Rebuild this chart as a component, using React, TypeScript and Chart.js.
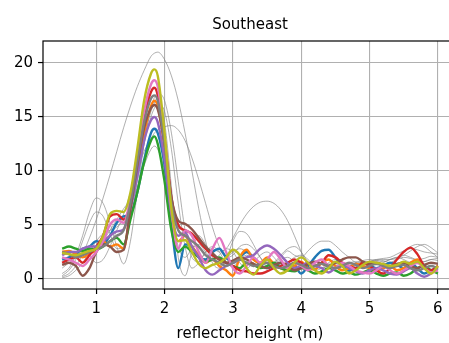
import { useEffect, useRef } from "react";
import { Chart, registerables } from "chart.js";

Chart.register(...registerables);

// reflector heights (m) at which each periodogram is sampled
const heights = [
  0.5, 0.6, 0.7, 0.8, 0.9, 1.0, 1.1, 1.2, 1.3, 1.4, 1.5, 1.6, 1.7, 1.8, 1.85,
  1.9, 2.0, 2.1, 2.2, 2.3, 2.4, 2.5, 2.6, 2.7, 2.8,
  2.9, 3.0, 3.1, 3.2, 3.3, 3.4, 3.5, 3.6, 3.7, 3.8,
  3.9, 4.0, 4.1, 4.2, 4.3, 4.4, 4.5, 4.6, 4.7, 4.8,
  4.9, 5.0, 5.1, 5.2, 5.3, 5.4, 5.5, 5.6, 5.7, 5.8,
  5.9, 6.0,
];

const xTicks = [1, 2, 3, 4, 5, 6];
const yTicks = [0, 5, 10, 15, 20];

// coloured (accepted) periodograms
const blue = [
  1.8, 2.0, 2.3, 2.8, 3.0, 3.5, 3.3, 4.0, 5.2, 5.8, 6.0, 8.0, 11.0, 13.5, 13.9,
  13.5, 10.5, 5.0, 1.0, 3.2, 3.0, 2.0, 1.8, 2.5, 2.8,
  2.0, 1.5, 2.0, 2.5, 2.0, 1.3, 1.0, 1.2, 1.5, 1.0,
  1.2, 0.5, 1.2, 2.0, 2.6, 2.7, 2.0, 1.2, 0.8, 1.0,
  1.4, 1.3, 1.0, 1.2, 1.5, 1.3, 1.0, 1.5, 1.0, 0.5,
  0.8, 1.0,
];
const orange = [
  2.5, 2.6, 2.3, 2.0, 2.4, 2.6, 3.5, 3.0, 3.2, 2.8, 6.5, 10.0, 13.5, 16.0, 16.5,
  16.0, 12.0, 6.0, 3.5, 4.0, 3.0, 2.2, 1.5, 1.8, 1.2,
  0.8, 0.3, 2.0, 2.7, 1.8, 1.5, 2.0, 1.4, 1.0, 0.8,
  1.2, 1.6, 1.0, 0.9, 1.5, 1.8, 1.2, 0.8, 1.0, 1.4,
  1.2, 1.0, 0.8, 1.0, 1.2, 0.8, 1.0, 1.5, 1.8, 1.2,
  0.7, 1.2,
];
const green = [
  2.8, 3.0, 2.8, 2.6, 2.8, 2.7, 3.0, 3.5, 3.8, 3.2, 5.5, 8.0, 10.8, 12.8, 13.2,
  12.5, 9.0, 4.5, 2.5, 3.0, 2.5, 2.0, 1.6, 1.8, 2.0,
  1.5, 1.2, 1.0, 1.5, 1.3, 1.0, 1.2, 1.5, 1.0, 0.8,
  0.7, 1.0, 0.8, 0.5, 0.7, 1.0, 0.8, 0.5, 0.6, 0.4,
  0.6, 0.8, 0.5, 0.3, 0.5, 0.6, 0.3, 0.5, 1.0, 1.2,
  0.8, 0.5,
];
const red = [
  1.5, 1.8, 2.0, 1.5, 2.2, 3.0, 4.0, 5.8, 6.0, 5.5, 7.0, 11.0, 15.0, 17.3, 17.7,
  17.0, 13.0, 7.5, 5.0, 4.5, 4.2, 3.5, 2.8, 2.2, 1.8,
  1.5, 1.2, 0.8, 0.7, 0.5, 0.5, 0.7, 1.0, 1.2, 1.5,
  1.8, 1.5, 1.0, 1.2, 1.5, 2.2, 2.0, 1.5, 1.2, 1.0,
  1.5, 1.2, 0.8, 0.5, 1.0, 1.8, 2.5, 2.9, 2.3, 1.2,
  0.8, 1.2,
];
const purple = [
  2.2, 2.5, 2.5, 2.8, 3.0, 3.0, 3.5, 4.0, 4.4, 4.6, 6.5, 9.5, 12.8, 14.7, 15.0,
  14.5, 11.0, 6.0, 4.0, 4.3, 3.0, 2.0, 0.8, 0.4, 0.8,
  1.2, 1.5, 1.8, 2.0, 2.2, 2.8, 3.1, 2.8, 2.2, 1.5,
  1.0, 1.2, 1.5, 1.2, 1.0, 0.6, 1.0, 1.3, 1.0, 0.7,
  0.5, 0.8, 1.0, 0.8, 0.5, 0.4, 0.7, 1.0, 0.5, 0.2,
  0.5, 1.0,
];
const brown = [
  1.3, 1.5, 1.2, 0.3, 1.0, 2.5, 3.2, 3.0, 2.5, 2.7, 6.5, 10.5, 14.0, 15.8, 16.1,
  15.7, 12.5, 7.5, 5.4, 5.1, 4.6, 3.8, 3.0, 2.4, 1.8,
  1.5, 1.7, 2.0, 1.8, 1.4, 1.2, 1.0, 1.3, 1.5, 1.2,
  0.8, 1.0, 1.4, 1.6, 1.4, 1.2, 1.5, 1.8, 2.0, 2.0,
  1.6, 1.4, 1.5, 1.3, 1.2, 1.4, 1.5, 1.2, 1.0, 1.3,
  1.5, 1.4,
];
const pink = [
  2.0, 1.8, 1.5, 1.2, 1.8, 2.5, 3.5, 5.0, 5.5, 5.2, 7.5, 11.5, 15.5, 18.0, 18.4,
  17.8, 13.0, 6.5, 2.8, 4.5, 4.0, 2.5, 1.5, 2.8, 3.8,
  2.5, 1.0, 0.5, 1.2, 2.0, 1.5, 1.8, 2.5, 1.8, 1.0,
  1.5, 1.2, 0.8, 1.5, 1.8, 1.2, 1.0, 1.5, 1.2, 0.8,
  0.6, 0.5, 0.8, 1.2, 0.8, 0.5, 0.8, 1.2, 1.5, 1.0,
  0.6, 0.8,
];
const grey = [
  2.5, 2.3, 2.0, 2.2, 2.5, 2.8, 3.0, 3.5, 4.0, 4.5, 7.0, 10.8, 14.5, 16.7, 17.0,
  16.5, 12.5, 7.0, 4.5, 4.0, 3.5, 3.0, 2.2, 1.8, 1.5,
  1.2, 1.5, 1.8, 1.5, 1.2, 1.3, 1.5, 1.2, 1.0, 1.2,
  1.5, 1.3, 1.0, 1.2, 1.4, 1.2, 1.0, 1.2, 1.5, 1.3,
  1.0, 1.2, 1.4, 1.2, 1.0, 1.2, 1.3, 1.0, 0.8, 1.0,
  1.2, 1.0,
];
const olive = [
  2.4, 2.3, 2.2, 2.4, 2.6, 2.8, 4.0, 6.0, 6.3, 6.2, 8.0, 12.0, 16.5, 19.0, 19.4,
  18.8, 13.5, 6.5, 3.5, 3.6, 2.5, 1.4, 1.0, 1.3, 1.5,
  2.0, 2.7, 2.2, 1.0, 0.4, 1.2, 1.8, 1.0, 0.5, 0.8,
  1.5, 2.0, 1.5, 0.8, 0.5, 1.0, 1.6, 1.2, 0.5, 0.8,
  1.3, 1.6, 1.5, 1.4, 1.2, 1.3, 1.6, 1.4, 1.6, 1.0,
  0.5, 1.2,
];

// thin grey (rejected) periodograms
const rejectedA = [
  0.2, 0.5, 1.2, 2.3, 3.8, 5.5, 7.5, 9.6, 11.8, 14.0, 16.0, 17.8, 19.3, 20.6, 20.9,
  21.0, 20.3, 18.8, 16.5, 13.5, 10.0, 6.5, 3.5, 1.5, 1.0,
  1.8, 2.5, 2.8, 2.5, 1.8, 1.2, 1.0, 1.3, 1.8, 2.0,
  1.6, 1.0, 0.8, 1.2, 1.5, 1.4, 1.2, 1.3, 1.5, 1.6,
  1.5, 1.6, 1.8, 1.9, 2.0, 2.3, 2.6, 2.8, 2.7, 2.5,
  2.4, 2.3,
];
const rejectedB = [
  0.5, 1.0, 2.2, 4.0, 6.2, 7.5, 7.0, 5.2, 3.0, 1.4, 3.5, 8.0, 12.5, 15.8, 16.8,
  17.2, 16.5, 13.5, 9.0, 4.5, 2.0, 1.6, 2.5, 3.0, 2.5,
  1.5, 1.2, 1.8, 2.2, 1.8, 1.2, 1.0, 1.2, 1.5, 1.3,
  1.0, 1.2, 1.5, 1.3, 1.0, 1.2, 1.4, 1.3, 1.2, 1.4,
  1.5, 1.4, 1.3, 1.5, 1.8, 2.0, 2.2, 2.0, 1.8, 1.9,
  2.1, 2.0,
];
const rejectedC = [
  0.3, 0.8, 1.8, 3.5, 5.2, 6.2, 5.8, 4.2, 2.8, 3.0, 5.5, 9.0, 12.5, 15.0, 15.8,
  16.2, 15.5, 12.0, 7.0, 3.0, 1.0, 1.5, 2.5, 2.8, 2.5,
  2.8, 3.8, 5.0, 6.0, 6.7, 7.1, 7.2, 7.0, 6.4, 5.4,
  4.0, 2.5, 1.2, 0.8, 1.5, 1.8, 1.5, 1.2, 1.0, 1.2,
  1.5, 1.6, 1.5, 1.4, 1.5, 1.8, 2.0, 1.9, 1.7, 1.6,
  1.8, 1.9,
];
const rejectedD = [
  1.0, 1.5, 2.0, 2.5, 2.2, 1.5, 1.8, 3.0, 4.5, 6.0, 8.0, 10.0, 11.8, 13.0, 13.5,
  13.8, 14.1, 14.2, 13.8, 12.8, 11.2, 9.2, 7.0, 4.8, 3.0,
  2.0, 2.2, 3.0, 3.2, 2.8, 2.0, 1.4, 1.5, 2.0, 2.6,
  2.2, 2.0, 2.6, 3.2, 3.5, 3.5, 3.1, 2.5, 2.0, 1.5,
  1.3, 1.5, 1.7, 1.8, 1.8, 1.9, 2.2, 2.6, 3.0, 3.2,
  2.9, 2.4,
];
const rejectedE = [
  1.5, 2.0, 2.5, 2.2, 1.8, 2.5, 3.5, 4.5, 5.5, 6.5, 7.5, 10.0, 13.0, 15.5, 16.3,
  16.8, 14.5, 8.5, 2.0, 0.3, 2.5, 4.0, 3.2, 2.0, 1.2,
  1.8, 3.5, 4.4, 4.2, 3.2, 2.0, 1.2, 1.5, 2.2, 2.8,
  3.0, 2.5, 1.5, 0.8, 1.0, 1.5, 1.8, 1.6, 1.2, 1.0,
  1.3, 1.6, 1.8, 1.7, 1.5, 1.8, 2.5, 3.0, 3.2, 3.0,
  2.5, 2.0,
];
const rejectedF = [
  0.1, 0.3, 0.8, 1.5, 2.5, 3.5, 4.2, 4.5, 4.8, 5.5, 6.8, 8.5, 10.5, 12.0, 12.3,
  12.0, 10.0, 6.5, 3.0, 2.0, 2.8, 3.2, 2.5, 1.8, 2.2,
  2.8, 2.5, 1.5, 1.0, 1.5, 2.2, 2.5, 2.0, 1.3, 1.5,
  2.0, 2.2, 1.8, 1.2, 1.0, 1.3, 1.6, 1.5, 1.3, 1.5,
  1.7, 1.8, 1.7, 1.6, 1.8, 2.0, 1.8, 1.5, 1.4, 1.6,
  1.8, 1.7,
];

const titleText = "Southeast";
const xLabel = "reflector height (m)";

const FONT = "'DejaVu Sans', sans-serif";

const toPoints = (vals: number[]) => vals.map((v, i) => ({ x: heights[i], y: v }));

const framePlugin = {
  id: "frame",
  afterDraw(chart: any) {
    const { ctx, chartArea } = chart;
    const { left, top, right, bottom } = chartArea;
    ctx.save();
    ctx.strokeStyle = "#000";
    ctx.lineWidth = 1.2;
    ctx.strokeRect(left, top, right - left, bottom - top);
    ctx.restore();
  },
};

export default function App() {
  const ref = useRef<HTMLCanvasElement | null>(null);

  useEffect(() => {
    if (!ref.current) return;
    const coloured = [
      { d: blue, c: "#1f77b4" },
      { d: orange, c: "#ff7f0e" },
      { d: green, c: "#2ca02c" },
      { d: red, c: "#d62728" },
      { d: purple, c: "#9467bd" },
      { d: brown, c: "#8c564b" },
      { d: pink, c: "#e377c2" },
      { d: grey, c: "#7f7f7f" },
      { d: olive, c: "#bcbd22" },
    ];
    const rejected = [rejectedA, rejectedB, rejectedC, rejectedD, rejectedE, rejectedF];

    const colouredSets = coloured.map((s) => ({
      data: toPoints(s.d),
      borderColor: s.c,
      borderWidth: 2.4,
      pointRadius: 0,
      fill: false,
      cubicInterpolationMode: "monotone" as const,
    }));
    const rejectedSets = rejected.map((d) => ({
      data: toPoints(d),
      borderColor: "rgba(128,128,128,0.7)",
      borderWidth: 0.9,
      pointRadius: 0,
      fill: false,
      cubicInterpolationMode: "monotone" as const,
    }));
    // first dataset is drawn on top in Chart.js
    const datasets = [...colouredSets.reverse(), ...rejectedSets];

    const chart = new Chart(ref.current, {
      type: "line",
      data: { datasets },
      plugins: [framePlugin],
      options: {
        animation: false,
        responsive: false,
        events: [],
        layout: { padding: { left: 0, right: 3, top: 0, bottom: 0 } },
        plugins: {
          legend: { display: false },
          tooltip: { enabled: false },
          title: {
            display: true,
            text: titleText,
            fullSize: false,
            color: "#000",
            font: { family: FONT, size: 15, weight: "normal" as any, lineHeight: 1.2 },
            padding: { top: 16, bottom: 7 },
          },
        },
        scales: {
          x: {
            type: "linear",
            min: 0.22,
            max: 6.28,
            afterFit: (s: any) => {
              s.height = 54;
            },
            afterBuildTicks: (s: any) => {
              s.ticks = xTicks.map((v) => ({ value: v }));
            },
            ticks: {
              color: "#000",
              padding: 6,
              maxRotation: 0,
              font: { family: FONT, size: 15, lineHeight: 1.2 },
            },
            grid: {
              color: "#b0b0b0",
              lineWidth: 1.1,
              drawTicks: true,
              tickLength: 5,
              tickColor: "#000",
              tickWidth: 1.2,
            },
            border: { display: false },
            title: {
              display: true,
              text: xLabel,
              color: "#000",
              font: { family: FONT, size: 15, lineHeight: 1.2 },
              padding: { top: 0, bottom: 0 },
            },
          },
          y: {
            type: "linear",
            min: -0.93,
            max: 22.03,
            afterFit: (s: any) => {
              s.width = 43;
            },
            afterBuildTicks: (s: any) => {
              s.ticks = yTicks.map((v) => ({ value: v }));
            },
            ticks: {
              color: "#000",
              padding: 5,
              font: { family: FONT, size: 15, lineHeight: 1.2 },
            },
            grid: {
              color: "#b0b0b0",
              lineWidth: 1.1,
              drawTicks: true,
              tickLength: 5,
              tickColor: "#000",
              tickWidth: 1.2,
            },
            border: { display: false },
          },
        },
      },
    });
    return () => chart.destroy();
  }, []);

  return (
    <div
      style={{
        position: "fixed",
        left: 0,
        top: 0,
        width: 449,
        height: 343,
        overflow: "hidden",
        background: "#fff",
      }}
    >
      <canvas ref={ref} width={460} height={343} style={{ width: 460, height: 343, display: "block" }} />
    </div>
  );
}
